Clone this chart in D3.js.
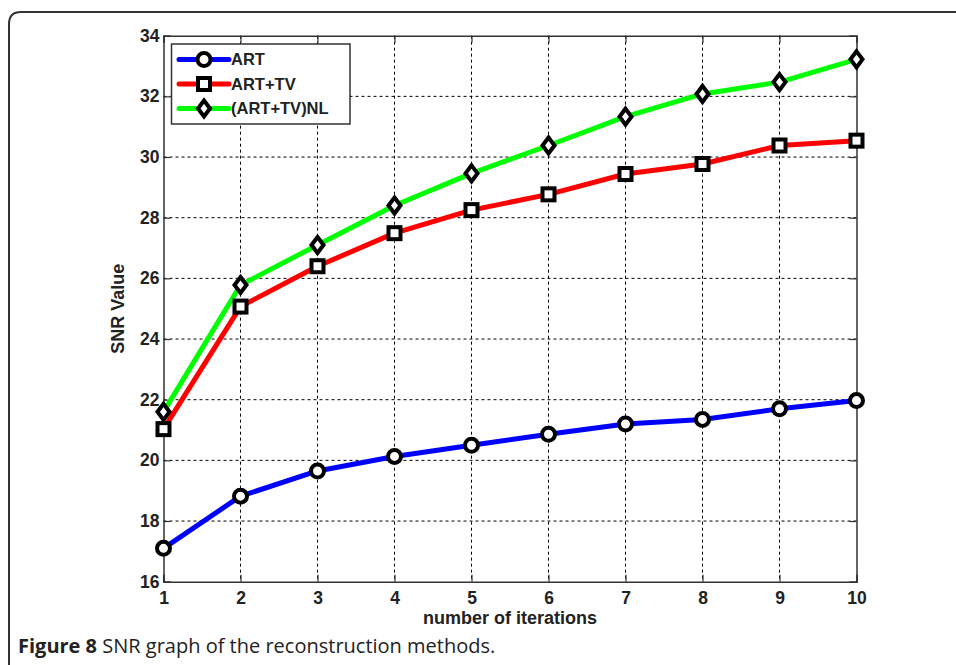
<!DOCTYPE html>
<html>
<head>
<meta charset="utf-8">
<script src="https://d3js.org/d3.v7.min.js"></script>
<style>
  html, body { margin: 0; padding: 0; background: #fff; }
  svg { display: block; }
</style>
</head>
<body>
<div id="chart"></div>
<script>
// Data
const iterations = [1, 2, 3, 4, 5, 6, 7, 8, 9, 10];
const artValues = [17.1, 18.82, 19.65, 20.13, 20.5, 20.86, 21.2, 21.35, 21.7, 21.97];
const artTvValues = [21.03, 25.07, 26.4, 27.49, 28.25, 28.77, 29.44, 29.77, 30.38, 30.54];
const artTvNlValues = [21.6, 25.78, 27.1, 28.4, 29.46, 30.38, 31.33, 32.08, 32.47, 33.22];
const yTicks = [16, 18, 20, 22, 24, 26, 28, 30, 32, 34];
const seriesNames = ['ART', 'ART+TV', '(ART+TV)NL'];

const width = 956, height = 665;
const margin = { left: 163.5, right: 956 - 856.5, top: 35.7, bottom: 665 - 581.7 };

const series = [
    { name: seriesNames[0], values: artValues, color: '#0000ff', marker: 'circle' },
    { name: seriesNames[1], values: artTvValues, color: '#ff0000', marker: 'square' },
    { name: seriesNames[2], values: artTvNlValues, color: '#00ff00', marker: 'diamond' }
];

const svg = d3.select('#chart')
    .append('svg')
    .attr('width', width)
    .attr('height', height);

// outer figure frame (rounded, open at bottom)
svg.append('path')
    .attr('d', `M9,${height + 5} L9,24 Q9,12 21,12 L${width + 5},12`)
    .attr('fill', 'none')
    .attr('stroke', '#333')
    .attr('stroke-width', 2);

const x = d3.scaleLinear().domain([1, 10]).range([margin.left, width - margin.right]);
const y = d3.scaleLinear().domain([16, 34]).range([height - margin.bottom, margin.top]);

const font = '"Liberation Sans", Arial, sans-serif';

// dotted grid
const grid = svg.append('g');
grid.selectAll('.vgrid')
    .data(iterations.slice(1, -1))
    .enter().append('line')
    .attr('x1', d => x(d)).attr('x2', d => x(d))
    .attr('y1', y(34)).attr('y2', y(16))
    .attr('stroke', '#000').attr('stroke-width', 1)
    .attr('stroke-dasharray', '3,3');
grid.selectAll('.hgrid')
    .data(yTicks.slice(1, -1))
    .enter().append('line')
    .attr('x1', x(1)).attr('x2', x(10))
    .attr('y1', d => y(d)).attr('y2', d => y(d))
    .attr('stroke', '#000').attr('stroke-width', 1)
    .attr('stroke-dasharray', '3,3');

// axes (MATLAB style, inward ticks on all four sides)
const tickLen = 7;
const xAxisBottom = d3.axisBottom(x).tickValues(iterations).tickSize(-tickLen).tickPadding(10).tickFormat(d3.format('d'));
const xAxisTop = d3.axisTop(x).tickValues(iterations).tickSize(-tickLen).tickFormat('');
const yAxisLeft = d3.axisLeft(y).tickValues(yTicks).tickSize(-tickLen).tickPadding(4).tickFormat(d3.format('d'));
const yAxisRight = d3.axisRight(y).tickValues(yTicks).tickSize(-tickLen).tickFormat('');

function styleAxis(g) {
    g.select('.domain').attr('stroke', '#333').attr('stroke-width', 1.5);
    g.selectAll('.tick line').attr('stroke', '#333').attr('stroke-width', 1.2);
    g.selectAll('.tick text')
        .attr('fill', '#222')
        .style('font-family', font)
        .style('font-size', '17.5px')
        .style('font-weight', 'bold');
}

svg.append('g').attr('transform', `translate(0,${y(16)})`).call(xAxisBottom).call(styleAxis)
    .selectAll('.tick text').attr('dy', '0.71em');
svg.append('g').attr('transform', `translate(0,${y(34)})`).call(xAxisTop).call(styleAxis);
svg.append('g').attr('transform', `translate(${x(1)},0)`).call(yAxisLeft).call(styleAxis);
svg.append('g').attr('transform', `translate(${x(10)},0)`).call(yAxisRight).call(styleAxis);

// axis titles
svg.append('text')
    .attr('x', (x(1) + x(10)) / 2)
    .attr('y', 624)
    .attr('text-anchor', 'middle')
    .attr('fill', '#222')
    .style('font-family', font)
    .style('font-size', '18px')
    .style('font-weight', 'bold')
    .text('number of iterations');

svg.append('text')
    .attr('transform', `translate(124,${(y(16) + y(34)) / 2}) rotate(-90)`)
    .attr('text-anchor', 'middle')
    .attr('fill', '#222')
    .style('font-family', font)
    .style('font-size', '18px')
    .style('font-weight', 'bold')
    .text('SNR Value');

// marker drawing
function drawMarker(sel, type) {
    if (type === 'circle') {
        sel.append('circle').attr('r', 6.5)
            .attr('fill', '#fff').attr('stroke', '#000').attr('stroke-width', 4);
    } else if (type === 'square') {
        sel.append('rect').attr('x', -6).attr('y', -6).attr('width', 12).attr('height', 12)
            .attr('fill', '#fff').attr('stroke', '#000').attr('stroke-width', 4);
    } else {
        sel.append('path').attr('d', 'M0,-8 L6,0 L0,8 L-6,0 Z')
            .attr('fill', '#fff').attr('stroke', '#000').attr('stroke-width', 4)
            .attr('stroke-linejoin', 'miter');
    }
}

const line = d3.line()
    .x((d, i) => x(iterations[i]))
    .y(d => y(d));

series.forEach(s => {
    svg.append('path')
        .datum(s.values)
        .attr('d', line)
        .attr('fill', 'none')
        .attr('stroke', s.color)
        .attr('stroke-width', 5)
        .attr('stroke-linejoin', 'round');
});

series.forEach(s => {
    svg.selectAll(null)
        .data(s.values)
        .enter().append('g')
        .attr('transform', (d, i) => `translate(${x(iterations[i])},${y(d)})`)
        .each(function () { drawMarker(d3.select(this), s.marker); });
});

// legend
const legend = svg.append('g');
legend.append('rect')
    .attr('x', 171.5).attr('y', 44).attr('width', 178.5).attr('height', 80)
    .attr('fill', '#fff').attr('stroke', '#333').attr('stroke-width', 1.5);

series.forEach((s, i) => {
    const ly = 59.5 + i * 24.5;
    legend.append('line')
        .attr('x1', 179).attr('x2', 229)
        .attr('y1', ly).attr('y2', ly)
        .attr('stroke', s.color).attr('stroke-width', 5).attr('stroke-linecap', 'round');
    const m = legend.append('g').attr('transform', `translate(204,${ly})`);
    drawMarker(m, s.marker);
    legend.append('text')
        .attr('x', 231).attr('y', ly)
        .attr('dy', '0.36em')
        .attr('fill', '#222')
        .style('font-family', font)
        .style('font-size', '16.5px')
        .style('font-weight', 'bold')
        .text(s.name);
});

// caption
const caption = svg.append('text')
    .attr('x', 18).attr('y', 653)
    .attr('fill', '#222')
    .style('font-family', '"Open Sans", "Noto Sans", sans-serif')
    .style('font-size', '20px');
caption.append('tspan').style('font-weight', 'bold').text('Figure 8');
caption.append('tspan').text(' SNR graph of the reconstruction methods.');
</script>
</body>
</html>
